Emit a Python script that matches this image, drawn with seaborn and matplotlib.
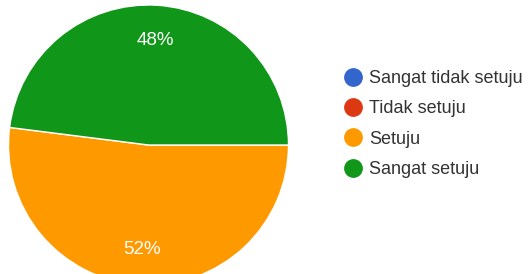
import matplotlib
matplotlib.use("Agg")
import matplotlib.pyplot as plt
from matplotlib.lines import Line2D
import seaborn as sns

categories = ["Sangat tidak setuju", "Tidak setuju", "Setuju", "Sangat setuju"]
values = [0, 0, 52, 48]
colors = ["#3366CC", "#DC3912", "#FF9900", "#109618"]

sns.set_theme(style="white")
plt.rcParams["font.family"] = ["Liberation Sans", "DejaVu Sans"]

fig = plt.figure(figsize=(5.31, 2.74), dpi=100)
ax = fig.add_axes([0, 0, 1, 1])

def fmt(p):
    return f"{p:.0f}%" if p > 0.5 else ""

wedges, texts, autotexts = ax.pie(
    values, colors=colors, startangle=0, counterclock=False,
    autopct=fmt, pctdistance=0.75,
    wedgeprops=dict(edgecolor="white", linewidth=1),
    textprops=dict(color="white", fontsize=13.5),
)

R = 140.0
cx, cy = 148.5, 145.0
W, H = 531.0, 274.0
ax.set_xlim(-cx / R, (W - cx) / R)
ax.set_ylim(-(H - cy) / R, cy / R)
ax.set_aspect("auto")
ax.axis("off")

handles = [Line2D([0], [0], marker="o", linestyle="none", markersize=12.5,
                  markerfacecolor=c, markeredgecolor=c) for c in colors]
fig.legend(handles, categories, loc="center left",
           bbox_to_anchor=(335 / W, 1 - 124 / H), frameon=False,
           prop=dict(size=13),
           handlelength=1.0, handletextpad=0.4, labelspacing=0.74,
           borderpad=0, labelcolor="#333333")

fig.savefig("out.png", dpi=100, facecolor="white")
